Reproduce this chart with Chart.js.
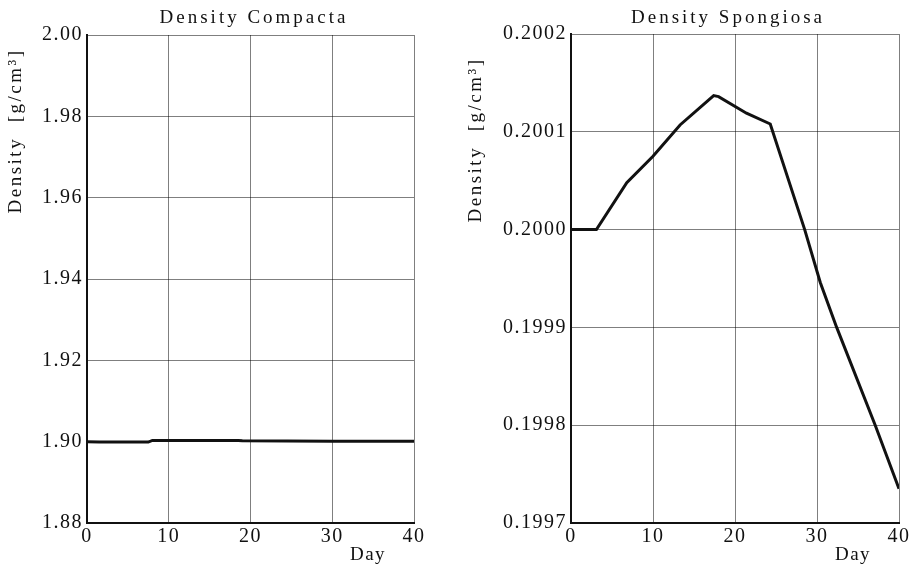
<!DOCTYPE html>
<html>
<head>
<meta charset="utf-8">
<script src="https://cdn.jsdelivr.net/npm/chart.js@4"></script>
<style>
  html, body { margin: 0; padding: 0; background: #fff; }
  .panel { position: absolute; top: 0; width: 460px; height: 571px; }
</style>
</head>
<body>
<div class="panel" style="left:0"><canvas id="compacta"></canvas></div>
<div class="panel" style="left:460px"><canvas id="spongiosa"></canvas></div>
<script>
// Density Compacta
const compactaDays = [0, 1.5, 7.5, 8, 18.5, 19, 30, 40];
const compactaValues = [1.9, 1.8999, 1.8999, 1.9003, 1.9003, 1.9002, 1.9001, 1.9001];
const compactaTicks = { min: 1.88, max: 2.0, step: 0.02, digits: 2 };

// Density Spongiosa
const spongiosaDays = [0, 3.1, 6.8, 10, 13.3, 17.4, 18, 21.4, 24.3, 28.5, 30.4, 32.4, 37.1, 40];
const spongiosaValues = [0.2, 0.2, 0.200048, 0.200075, 0.200107, 0.200137, 0.200136, 0.200119, 0.200108, 0.2, 0.199946, 0.1999, 0.1998, 0.199735];
const spongiosaTicks = { min: 0.1997, max: 0.2002, step: 0.0001, digits: 4 };

const dayTicks = { min: 0, max: 40, step: 10 };

const serif = "'Liberation Serif', 'DejaVu Serif', serif";

// розрядка для підписів шкал (Chart.js сам її не вміє)
const spacingPlugin = {
  id: "spacing",
  beforeUpdate: (chart) => { chart.ctx.letterSpacing = "1.5px"; },
  beforeDraw: (chart) => { chart.ctx.letterSpacing = "1.5px"; },
};

// текст поверх графіка: заголовок, підпис осі Y, "Day"
const labelsPlugin = (title, titleX, yLabelY, dayX) => ({
  id: "labels",
  afterDraw: (chart) => {
    const { ctx } = chart;
    ctx.save();
    ctx.fillStyle = "#111";
    ctx.textAlign = "center";
    ctx.textBaseline = "middle";
    ctx.font = `19px ${serif}`;
    ctx.letterSpacing = "3px";
    ctx.fillText(title, titleX, 18);

    ctx.font = `19px ${serif}`;
    ctx.letterSpacing = "1.5px";
    ctx.fillText("Day", dayX, 555);

    ctx.translate(16, yLabelY);
    ctx.rotate(-Math.PI / 2);
    ctx.font = `19px ${serif}`;
    ctx.letterSpacing = "2.5px";
    ctx.fillText("Density  [g/cm\u00B3]", 0, 0);
    ctx.restore();
  },
});

const makeChart = (id, days, values, yTicks, area, extra) => {
  const ctx = document.getElementById(id).getContext("2d");
  return new Chart(ctx, {
    type: "line",
    data: {
      datasets: [
        {
          data: days.map((d, i) => ({ x: d, y: values[i] })),
          borderColor: "#111",
          borderWidth: 3,
          pointRadius: 0,
          tension: 0,
          fill: false,
        },
      ],
    },
    options: {
      responsive: true,
      maintainAspectRatio: false,
      animation: false,
      layout: { padding: { left: 0, top: area.top, right: 460 - area.right, bottom: 0 } },
      scales: {
        x: {
          type: "linear",
          min: dayTicks.min,
          max: dayTicks.max,
          afterFit: (scale) => { scale.height = 571 - area.bottom; },
          ticks: {
            stepSize: dayTicks.step,
            color: "#111",
            padding: 2,
            maxRotation: 0,
            font: { family: serif, size: 20 },
          },
          grid: { color: "rgba(0,0,0,0.5)", lineWidth: 1, drawTicks: false },
          border: { color: "#111", width: 2 },
        },
        y: {
          type: "linear",
          min: yTicks.min,
          max: yTicks.max,
          afterFit: (scale) => { scale.width = area.left; },
          afterBuildTicks: (scale) => {
            const t = [];
            const n = Math.round((yTicks.max - yTicks.min) / yTicks.step);
            for (let i = 0; i <= n; i++) t.push({ value: yTicks.min + i * yTicks.step });
            scale.ticks = t;
          },
          ticks: {
            color: "#111",
            padding: 4,
            font: { family: serif, size: 20 },
            callback: (v) => Number(v).toFixed(yTicks.digits),
          },
          grid: { color: "rgba(0,0,0,0.5)", lineWidth: 1, drawTicks: false },
          border: { color: "#111", width: 2 },
        },
      },
      plugins: {
        legend: { display: false },
        tooltip: { enabled: false },
      },
    },
    plugins: [spacingPlugin, extra],
  });
};

makeChart(
  "compacta",
  compactaDays,
  compactaValues,
  compactaTicks,
  { left: 87, right: 414, top: 35, bottom: 523 },
  labelsPlugin("Density Compacta", 254, 131, 368)
);

makeChart(
  "spongiosa",
  spongiosaDays,
  spongiosaValues,
  spongiosaTicks,
  { left: 111, right: 439, top: 34, bottom: 523 },
  labelsPlugin("Density Spongiosa", 268, 140, 393)
);
</script>
</body>
</html>
